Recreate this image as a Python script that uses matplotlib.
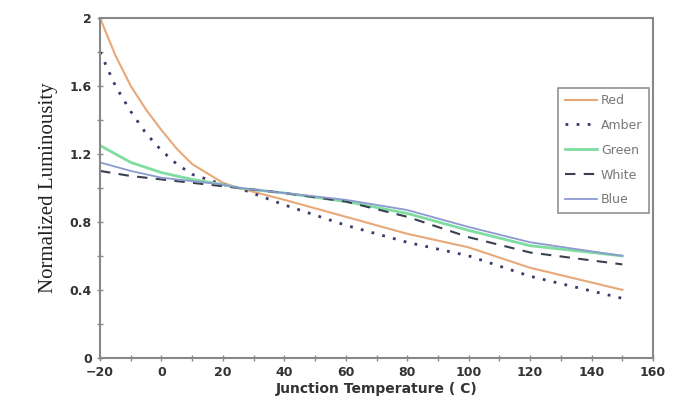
import matplotlib
matplotlib.use("Agg")
import matplotlib.pyplot as plt
from matplotlib.ticker import MultipleLocator

temps = [-20, -15, -10, -5, 0, 5, 10, 20, 25, 40, 60, 80, 100, 120, 150]
red   = [2.00, 1.78, 1.60, 1.46, 1.34, 1.23, 1.14, 1.03, 1.00, 0.93, 0.83, 0.73, 0.65, 0.53, 0.40]
amber = [1.80, 1.60, 1.45, 1.32, 1.22, 1.14, 1.08, 1.02, 1.00, 0.90, 0.78, 0.68, 0.60, 0.48, 0.35]
green = [1.25, 1.20, 1.15, 1.12, 1.09, 1.07, 1.05, 1.02, 1.00, 0.97, 0.92, 0.85, 0.75, 0.66, 0.60]
white = [1.10, 1.085, 1.07, 1.06, 1.05, 1.04, 1.03, 1.01, 1.00, 0.97, 0.92, 0.83, 0.71, 0.62, 0.55]
blue  = [1.15, 1.125, 1.10, 1.08, 1.06, 1.05, 1.04, 1.02, 1.00, 0.97, 0.93, 0.87, 0.77, 0.68, 0.60]

xticks = [-20, 0, 20, 40, 60, 80, 100, 120, 140, 160]
yticks = [0, 0.4, 0.8, 1.2, 1.6, 2]
ytick_labels = ["0", "0.4", "0.8", "1.2", "1.6", "2"]

fig = plt.figure(figsize=(6.76, 4.19), dpi=100)
ax = fig.add_axes([0.148, 0.146, 0.818, 0.811])

ax.plot(temps, red, color="#E8A878", lw=1.5, label="Red")
ax.plot(temps, amber, color="#3A3A6A", lw=2.0, ls=(0, (1, 3)), label="Amber")
ax.plot(temps, green, color="#80DDA0", lw=2.0, label="Green")
ax.plot(temps, white, color="#3A4050", lw=1.5, ls=(0, (5, 4)), label="White")
ax.plot(temps, blue, color="#8C9AD0", lw=1.3, label="Blue")

ax.set_xlim(-20, 160)
ax.set_ylim(0, 2)
ax.set_xticks(xticks)
ax.set_yticks(yticks)
ax.set_yticklabels(ytick_labels)
ax.xaxis.set_minor_locator(MultipleLocator(10))
ax.yaxis.set_minor_locator(MultipleLocator(0.2))
ax.tick_params(which="both", direction="inout", color="#888888", labelsize=9, length=5, width=1)
ax.tick_params(which="minor", length=4)
for lab in ax.get_xticklabels() + ax.get_yticklabels():
    lab.set_fontweight("bold")
    lab.set_color("#333333")
for s in ax.spines.values():
    s.set_color("#888888")
    s.set_linewidth(1.5)

ax.set_xlabel("Junction Temperature ( C)", fontsize=10, fontweight="bold", color="#333333", labelpad=2)
ax.set_ylabel("Normalized Luminousity", fontsize=15, family="Liberation Serif", color="#222222", labelpad=8)

leg = ax.legend(loc="upper right", bbox_to_anchor=(0.992, 0.795), fontsize=9, frameon=True,
                fancybox=False, edgecolor="#777777", handlelength=2.6, borderpad=0.5,
                labelspacing=0.95, handletextpad=0.3, borderaxespad=0)
leg.get_frame().set_linewidth(1.2)
for t in leg.get_texts():
    t.set_color("#777777")

fig.savefig("out.png", dpi=100)
